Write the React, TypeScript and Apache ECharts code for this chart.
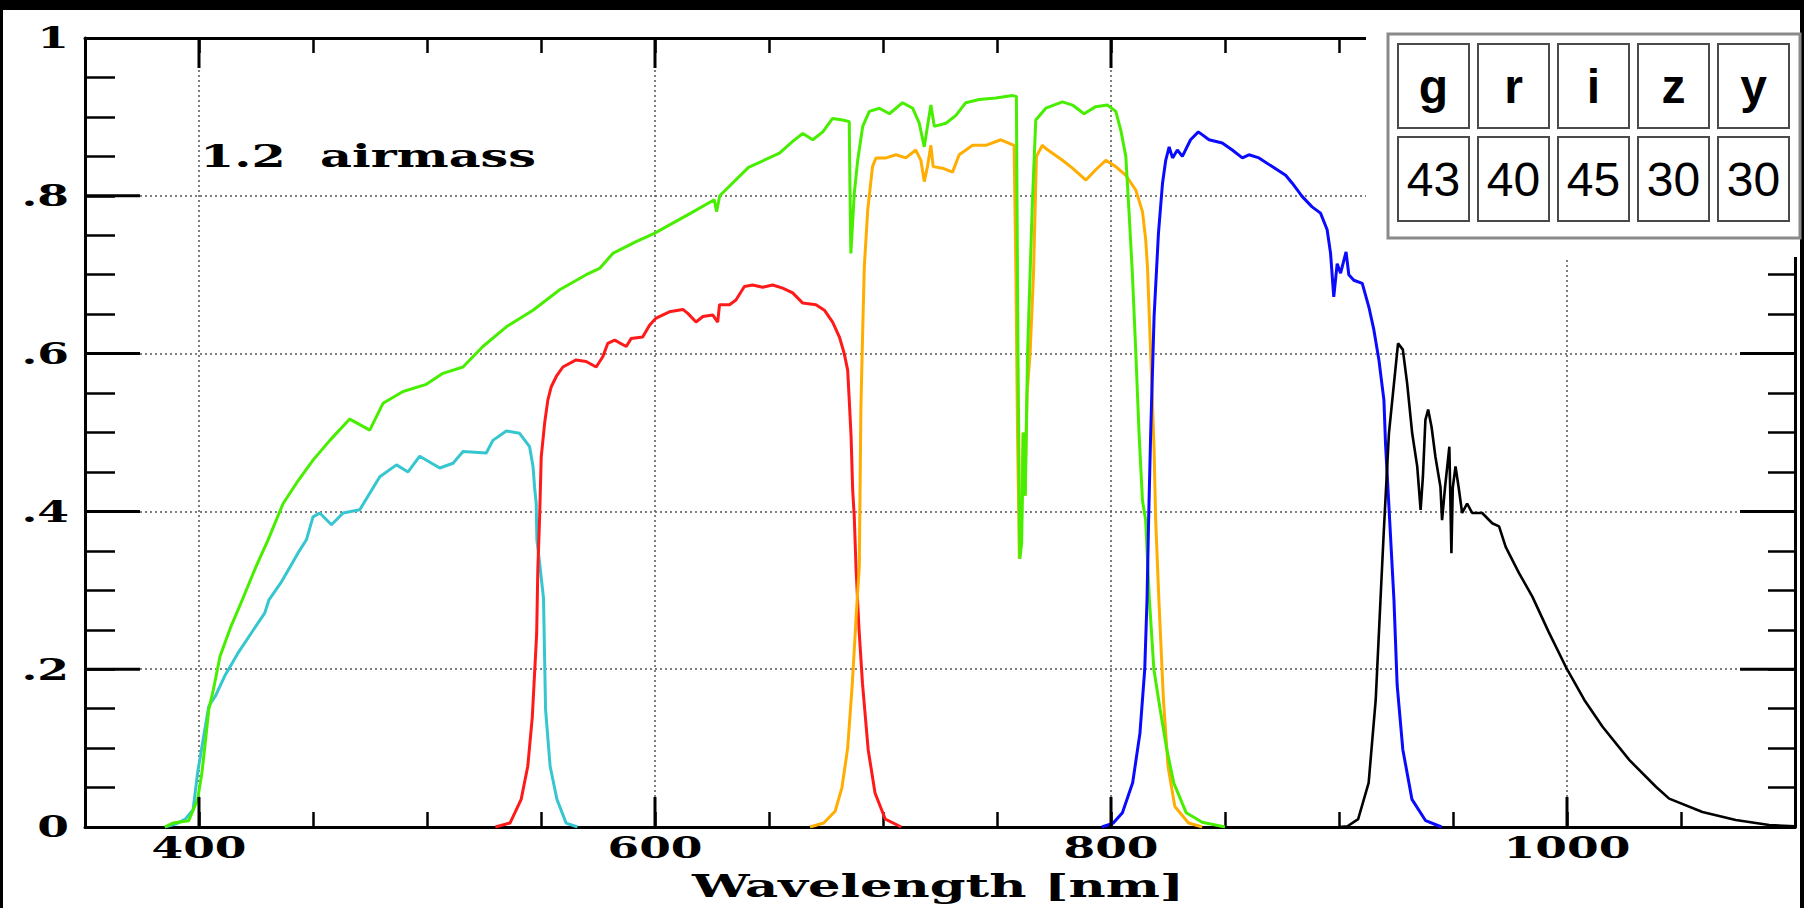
import React, { useEffect, useRef } from 'react';
import * as echarts from 'echarts';

// ---- axis definition ----
const xMin = 350;
const xMax = 1100;
const yMin = 0;
const yMax = 1;
const xMajorTicks = [400, 600, 800, 1000];
const xTickLabels = ['400', '600', '800', '1000'];
const yMajorTicks = [0.2, 0.4, 0.6, 0.8];
const yLabelValues = [0, 0.2, 0.4, 0.6, 0.8, 1];
const yTickLabels = ['0', '.2', '.4', '.6', '.8', '1'];
const xGridValues = [400, 600, 800, 1000];
const yGridValues = [0.2, 0.4, 0.6, 0.8];

// ---- table ----
const bandNames = ['g', 'r', 'i', 'z', 'y'];
const bandValues = ['43', '40', '45', '30', '30'];

// ---- transmission curves [wavelength nm, throughput] ----
const gCurve = [
  [385, 0], [390, 0.004], [394, 0.01], [397.4, 0.022], [399.4, 0.069], [402.3, 0.119], [404.3, 0.153],
  [407.2, 0.166], [411.2, 0.191], [417, 0.22], [423.9, 0.25], [428.8, 0.271], [430.7, 0.288], [436, 0.31],
  [441, 0.335], [444, 0.35], [447.1, 0.364], [450, 0.393], [453, 0.398], [458.1, 0.383], [463.2, 0.398],
  [470.5, 0.402], [474.9, 0.423], [479.3, 0.444], [486.6, 0.459], [491.7, 0.45], [496.8, 0.47],
  [505.6, 0.455], [511.4, 0.461], [515.8, 0.476], [526, 0.474], [528.9, 0.49], [534.8, 0.502],
  [540.6, 0.499], [545, 0.482], [546.5, 0.457], [547.2, 0.43], [547.9, 0.41], [548.2, 0.364],
  [549.4, 0.334], [551.1, 0.29], [552, 0.149], [554, 0.077], [557, 0.035], [561, 0.005], [566, 0],
];

const rCurve = [
  [530, 0], [536.4, 0.005], [541.3, 0.035], [544.2, 0.077], [546.2, 0.14], [548.1, 0.245], [548.6, 0.326],
  [549.4, 0.393], [550.1, 0.469], [551.6, 0.512], [553, 0.541], [554.5, 0.558], [556.7, 0.571],
  [559.6, 0.583], [565.4, 0.592], [569.8, 0.59], [574.2, 0.583], [577.1, 0.596], [579.3, 0.613],
  [582.3, 0.617], [587.4, 0.609], [589.5, 0.619], [594.6, 0.621], [597.6, 0.636], [600.5, 0.645],
  [606.3, 0.653], [612.2, 0.656], [614.4, 0.651], [618, 0.64], [621, 0.647], [625.3, 0.649],
  [627.5, 0.64], [628.3, 0.662], [632.7, 0.662], [635.5, 0.668], [639.2, 0.685], [642.8, 0.687],
  [647.2, 0.684], [651.6, 0.687], [656, 0.683], [660.4, 0.677], [664.8, 0.664], [670.6, 0.662],
  [674.3, 0.655], [677.9, 0.64], [680.9, 0.621], [683, 0.6], [684.5, 0.579], [685.2, 0.541],
  [686, 0.495], [686.7, 0.427], [687.4, 0.393], [688.2, 0.326], [689.5, 0.25], [691, 0.182],
  [693.5, 0.098], [696.5, 0.043], [701, 0.01], [708, 0],
];

const iCurve = [
  [668, 0], [674, 0.005], [679, 0.02], [682, 0.05], [684.5, 0.1], [686.5, 0.18], [688.5, 0.28],
  [689.6, 0.33], [690.3, 0.53], [691.1, 0.63], [691.8, 0.71], [693.3, 0.782], [695.4, 0.837],
  [696.9, 0.848], [701.3, 0.848], [705.7, 0.852], [710, 0.848], [714.4, 0.858], [716.6, 0.845],
  [718.1, 0.818], [719.5, 0.837], [721, 0.864], [722, 0.837], [726.1, 0.835], [730.5, 0.83],
  [733.4, 0.852], [739.3, 0.864], [745.1, 0.864], [751.7, 0.871], [757.5, 0.864], [758.3, 0.7],
  [759, 0.5], [759.8, 0.34], [760.6, 0.36], [761.4, 0.5], [762.2, 0.42], [763.2, 0.55], [764.5, 0.6],
  [766, 0.7], [767.3, 0.85], [769.9, 0.864], [771.4, 0.86], [778.7, 0.845], [783.1, 0.835],
  [789, 0.82], [793.3, 0.833], [797.7, 0.845], [802.1, 0.837], [806.5, 0.826], [810.9, 0.807],
  [813.8, 0.78], [815.2, 0.745], [816, 0.71], [817.4, 0.6], [818.9, 0.478], [819.6, 0.389],
  [821, 0.288], [823, 0.161], [825, 0.077], [828, 0.026], [834, 0.005], [840, 0],
];

const openCurve = [
  [385, 0], [388.6, 0.005], [395.5, 0.008], [399.4, 0.035], [401.3, 0.069], [402.9, 0.111],
  [404.3, 0.149], [406.3, 0.174], [409.2, 0.216], [414, 0.254], [419, 0.288], [425, 0.33],
  [430.3, 0.364], [436.9, 0.41], [442.8, 0.436], [450, 0.465], [457.4, 0.49], [466.1, 0.517],
  [474.9, 0.503], [480.7, 0.537], [489.5, 0.552], [499.7, 0.561], [507, 0.575], [515.8, 0.583],
  [524.5, 0.609], [534.8, 0.634], [546.5, 0.655], [558.2, 0.681], [569.8, 0.7], [575.7, 0.708],
  [581.5, 0.727], [591.7, 0.742], [599.5, 0.752], [615.7, 0.778], [626, 0.795], [627, 0.78],
  [628.4, 0.8], [641, 0.836], [654.6, 0.854], [660.4, 0.869], [664.8, 0.879], [669.2, 0.871],
  [673.6, 0.881], [677.9, 0.898], [682.3, 0.896], [685.2, 0.894], [685.5, 0.811], [685.9, 0.727],
  [687.4, 0.803], [688.9, 0.845], [691.1, 0.888], [694, 0.907], [698.4, 0.911], [702.8, 0.904],
  [708.6, 0.918], [713, 0.911], [715.9, 0.892], [718.1, 0.862], [719.5, 0.888], [721, 0.915],
  [722.5, 0.888], [727.6, 0.892], [732, 0.902], [736.3, 0.918], [742.2, 0.922], [749.5, 0.924],
  [756.8, 0.927], [758.5, 0.926], [759.2, 0.6], [760, 0.34], [760.8, 0.36], [761.6, 0.5],
  [762.4, 0.42], [763.4, 0.6], [765.5, 0.79], [767, 0.896], [771.4, 0.911], [778.7, 0.919],
  [783.1, 0.915], [788.2, 0.904], [793.3, 0.913], [798.4, 0.915], [802.1, 0.907], [804.3, 0.883],
  [806.5, 0.85], [807.9, 0.78], [809.4, 0.7], [810.9, 0.6], [812.3, 0.499], [813.8, 0.414],
  [815.2, 0.389], [816.8, 0.29], [818.8, 0.2], [821.5, 0.15], [824.5, 0.098], [827.5, 0.056],
  [833, 0.018], [840, 0.006], [850, 0],
];

const zCurve = [
  [796, 0], [801, 0.005], [805, 0.018], [809.5, 0.056], [812.7, 0.119], [814.8, 0.2], [815.8, 0.288],
  [816.5, 0.389], [817.4, 0.499], [818.9, 0.647], [820.8, 0.752], [822.6, 0.816], [824, 0.845],
  [825.5, 0.862], [827, 0.848], [829.1, 0.858], [831.3, 0.85], [834.9, 0.871], [838.3, 0.881],
  [843, 0.871], [848.8, 0.867], [853.2, 0.858], [857.6, 0.848], [860.5, 0.852], [864.9, 0.848],
  [870.7, 0.837], [876.6, 0.826], [879.5, 0.816], [883.9, 0.799], [888.2, 0.786], [891.9, 0.778],
  [894.8, 0.757], [896.3, 0.727], [897.7, 0.672], [899.2, 0.714], [900.7, 0.702], [903.1, 0.729],
  [904.3, 0.7], [906.5, 0.693], [910.2, 0.689], [913.1, 0.659], [915.3, 0.63], [917.5, 0.592],
  [919.7, 0.541], [920.4, 0.486], [921.9, 0.406], [924.1, 0.288], [925.5, 0.18], [928, 0.098],
  [932, 0.035], [938, 0.008], [945, 0],
];

const yCurve = [
  [900, 0], [903.7, 0.001], [908.4, 0.01], [913, 0.056], [916.1, 0.161], [918.2, 0.288],
  [919.6, 0.372], [921.9, 0.499], [924.1, 0.562], [925.9, 0.613], [928, 0.605], [929.9, 0.562],
  [932.1, 0.499], [934.3, 0.457], [935.8, 0.402], [936.8, 0.444], [937.9, 0.516], [939.1, 0.529],
  [940.6, 0.507], [942.3, 0.469], [944.5, 0.431], [945.2, 0.389], [946.5, 0.43], [948.4, 0.482],
  [949.3, 0.347], [949.9, 0.43], [951.1, 0.457], [952.5, 0.43], [954, 0.398], [956.2, 0.41],
  [958.4, 0.398], [962.8, 0.398], [967.2, 0.385], [970.2, 0.381], [973.1, 0.355], [978.9, 0.322],
  [984.8, 0.292], [992, 0.247], [1000, 0.2], [1007.6, 0.161], [1015.6, 0.127], [1027.3, 0.085],
  [1039, 0.051], [1044.8, 0.036], [1059.4, 0.019], [1074, 0.0089], [1088.7, 0.0025], [1100, 0.001],
];

const FONT = 'DejaVu Serif';

function lineSeries(name: string, data: number[][], color: string, z: number, width = 3) {
  return {
    name,
    type: 'line',
    data,
    showSymbol: false,
    symbol: 'none',
    silent: true,
    z,
    lineStyle: { color, width },
    itemStyle: { color },
  };
}

function buildOption() {
  const axisLineStyle = { color: '#000', width: 3 };
  const tickStyle = { color: '#000', width: 2.5 };

  const graphics: any[] = [
    // white paper inside the black frame
    { type: 'rect', z: -10, shape: { x: 3, y: 10, width: 1797, height: 898 }, style: { fill: '#fff' } },
    // white area behind the table (hides axis there)
    { type: 'rect', z: 50, shape: { x: 1366, y: 10, width: 434, height: 247 }, style: { fill: '#fff' } },
    // table outer frame
    { type: 'rect', z: 51, shape: { x: 1388, y: 34, width: 412, height: 204 }, style: { fill: '#fff', stroke: '#8a8a8a', lineWidth: 3 } },
    {
      type: 'text', z: 60, x: 200, y: 156, scaleX: 1.54,
      style: { text: '1.2  airmass', fill: '#000', fontSize: 32, fontFamily: FONT, fontWeight: 'bold', align: 'left', verticalAlign: 'middle' },
    },
    {
      type: 'text', z: 60, x: 938, y: 886, scaleX: 1.6,
      style: { text: 'Wavelength [nm]', fill: '#000', fontSize: 32, fontFamily: FONT, fontWeight: 'bold', align: 'center', verticalAlign: 'middle' },
    },
  ];
  bandNames.forEach((b, i) => {
    const cx = 1398 + i * 80;
    graphics.push({ type: 'rect', z: 52, shape: { x: cx, y: 44, width: 71, height: 84 }, style: { fill: '#fff', stroke: '#4a4a4a', lineWidth: 2 } });
    graphics.push({ type: 'rect', z: 52, shape: { x: cx, y: 137, width: 71, height: 84 }, style: { fill: '#fff', stroke: '#4a4a4a', lineWidth: 2 } });
    graphics.push({
      type: 'text', z: 53, x: cx + 35.5, y: 86,
      style: { text: b, fill: '#000', fontSize: 48, fontFamily: 'Liberation Sans', fontWeight: 'bold', align: 'center', verticalAlign: 'middle' },
    });
    graphics.push({
      type: 'text', z: 53, x: cx + 35.5, y: 179,
      style: { text: bandValues[i], fill: '#000', fontSize: 48, fontFamily: 'Liberation Sans', align: 'center', verticalAlign: 'middle' },
    });
  });

  return {
    animation: false,
    backgroundColor: '#000',
    grid: { left: 85, top: 38, right: 9, bottom: 81, containLabel: false },
    xAxis: [
      {
        type: 'value', position: 'bottom', min: xMin, max: xMax, interval: 50,
        axisLine: { show: true, onZero: false, lineStyle: axisLineStyle },
        axisTick: { show: true, inside: true, length: 15, lineStyle: tickStyle },
        axisLabel: { show: false }, splitLine: { show: false },
      },
      {
        type: 'value', position: 'top', min: xMin, max: xMax, interval: 50,
        axisLine: { show: true, onZero: false, lineStyle: axisLineStyle },
        axisTick: { show: true, inside: true, length: 15, lineStyle: tickStyle },
        axisLabel: { show: false }, splitLine: { show: false },
      },
    ],
    yAxis: [
      {
        type: 'value', position: 'left', min: yMin, max: yMax, interval: 0.05,
        axisLine: { show: true, onZero: false, lineStyle: axisLineStyle },
        axisTick: { show: true, inside: true, length: 30, lineStyle: tickStyle },
        axisLabel: { show: false }, splitLine: { show: false },
      },
      {
        type: 'value', position: 'right', min: yMin, max: yMax, interval: 0.05,
        axisLine: { show: true, onZero: false, lineStyle: axisLineStyle },
        axisTick: { show: true, inside: true, length: 27, lineStyle: tickStyle },
        axisLabel: { show: false }, splitLine: { show: false },
      },
    ],
    graphic: { elements: graphics },
    series: [
      {
        name: 'grid',
        type: 'line',
        data: [],
        silent: true,
        z: 1,
        markLine: {
          silent: true, symbol: 'none', z: 1, animation: false,
          label: { show: false },
          lineStyle: { color: '#555', width: 1.5, type: [2, 3] },
          data: [
            ...xGridValues.map((v) => ({ xAxis: v })),
            ...yGridValues.map((v) => ({ yAxis: v })),
          ],
        },
      },
      lineSeries('g', gCurve, '#36c6cf', 3),
      lineSeries('r', rCurve, '#ff1a1a', 4),
      lineSeries('i', iCurve, '#ffad00', 5),
      lineSeries('open', openCurve, '#48ee00', 6),
      lineSeries('z', zCurve, '#0a0aff', 7),
      lineSeries('y', yCurve, '#000000', 8, 2.6),
      {
        name: 'xMajorTicks', type: 'custom', silent: true, z: 9,
        data: xMajorTicks.map((v) => [v, yMin]),
        renderItem: (params: any, api: any) => {
          const v = api.value(0);
          const b = api.coord([v, yMin]);
          const t = api.coord([v, yMax]);
          const st = { stroke: '#000', lineWidth: 3 };
          return {
            type: 'group',
            children: [
              { type: 'line', shape: { x1: b[0], y1: b[1], x2: b[0], y2: b[1] - 30 }, style: st },
              { type: 'line', shape: { x1: t[0], y1: t[1], x2: t[0], y2: t[1] + 30 }, style: st },
            ],
          };
        },
      },
      {
        name: 'yMajorTicks', type: 'custom', silent: true, z: 9,
        data: yMajorTicks.map((v) => [xMin, v]),
        renderItem: (params: any, api: any) => {
          const v = api.value(1);
          const l = api.coord([xMin, v]);
          const r = api.coord([xMax, v]);
          const st = { stroke: '#000', lineWidth: 3 };
          return {
            type: 'group',
            children: [
              { type: 'line', shape: { x1: l[0], y1: l[1], x2: l[0] + 55, y2: l[1] }, style: st },
              { type: 'line', shape: { x1: r[0], y1: r[1], x2: r[0] - 55, y2: r[1] }, style: st },
            ],
          };
        },
      },
      {
        name: 'xLabels', type: 'custom', silent: true, z: 9,
        data: xMajorTicks.map((v) => [v, yMin]),
        renderItem: (params: any, api: any) => {
          const p = api.coord([api.value(0), yMin]);
          return {
            type: 'text', x: p[0], y: p[1] + 21, scaleX: 1.52,
            style: { text: xTickLabels[params.dataIndex], fill: '#000', fontSize: 30, fontFamily: FONT, fontWeight: 'bold', align: 'center', verticalAlign: 'middle' },
          };
        },
      },
      {
        name: 'yLabels', type: 'custom', silent: true, z: 9,
        data: yLabelValues.map((v) => [xMin, v]),
        renderItem: (params: any, api: any) => {
          const p = api.coord([xMin, api.value(1)]);
          return {
            type: 'text', x: p[0] - 16, y: p[1], scaleX: 1.52,
            style: { text: yTickLabels[params.dataIndex], fill: '#000', fontSize: 30, fontFamily: FONT, fontWeight: 'bold', align: 'right', verticalAlign: 'middle' },
          };
        },
      },
    ],
  };
}

export default function App() {
  const ref = useRef<HTMLDivElement>(null);
  useEffect(() => {
    document.body.style.margin = '0';
    if (!ref.current) return;
    const chart = echarts.init(ref.current, undefined, { renderer: 'svg' });
    chart.setOption(buildOption() as any);
    return () => chart.dispose();
  }, []);
  return <div ref={ref} style={{ width: 1804, height: 908 }} />;
}
